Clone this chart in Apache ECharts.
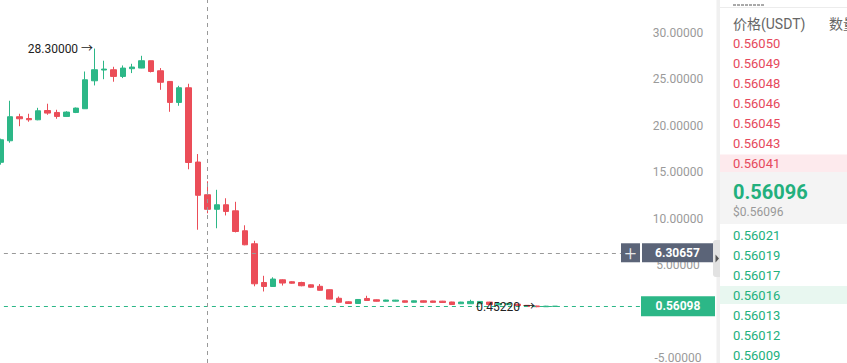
<!DOCTYPE html>
<html>
<head>
<meta charset="utf-8">
<script src="https://cdn.jsdelivr.net/npm/echarts@6/dist/echarts.min.js"></script>
<style>
html,body{margin:0;padding:0;background:#fff;}
#chart{width:847px;height:363px;}
</style>
</head>
<body>
<div id="chart"></div>
<script>
// ---- data ----
const categories = ['1','2','3','4','5','6','7','8','9','10','11','12','13','14','15','16','17','18','19','20',
  '21','22','23','24','25','26','27','28','29','30','31','32','33','34','35','36','37','38','39','40',
  '41','42','43','44','45','46','47','48','49','50','51','52','53','54','55','56','57','58','59','60',
  '61','62','63','64','65','66','67','68','69'];
const openPrices  = [16.05,18.37,20.96,20.77,20.63,21.63,21.42,20.99,21.42,21.82,24.83,25.99,26.02,25.30,26.13,26.20,26.99,25.91,24.76,22.50,
  24.08,16.08,12.56,10.99,11.48,10.83,8.68,7.28,3.11,2.68,3.40,3.19,3.11,2.86,2.70,2.33,1.41,1.03,0.85,1.39,
  1.25,1.09,1.10,1.14,0.98,1.14,1.12,1.10,1.01,0.82,0.82,0.82,1.00,0.70,0.72,0.78,0.65,0.58,0.50,0.53];
const closePrices = [18.48,20.96,20.74,20.63,21.60,21.35,20.99,21.46,21.89,24.94,26.02,26.09,25.30,26.20,26.31,26.99,25.83,24.67,22.50,24.08,
  16.03,12.50,10.99,11.48,10.76,8.60,7.17,2.97,2.68,3.48,3.05,3.03,2.76,2.60,2.27,1.32,0.98,0.85,1.28,1.17,
  1.09,1.22,1.21,0.98,1.14,0.98,0.97,0.96,0.74,1.00,1.07,1.07,0.75,0.85,0.86,0.62,0.52,0.50,0.56,0.56098];
const lowPrices   = [15.80,18.16,19.94,20.42,20.58,21.17,20.74,20.96,21.35,21.80,24.33,25.00,24.73,25.12,25.66,26.18,25.73,23.86,21.49,22.14,
  15.30,8.79,10.56,8.95,10.33,8.50,7.12,2.70,2.14,2.65,2.78,2.98,2.70,2.55,2.24,1.30,0.89,0.82,0.82,1.14,
  1.06,1.06,1.07,0.95,0.95,0.95,0.94,0.93,0.72,0.80,0.80,0.80,0.72,0.68,0.70,0.60,0.50,0.4522,0.48,0.51];
const highPrices  = [18.60,22.68,21.28,21.28,21.92,22.36,21.71,21.55,21.95,25.83,28.30,26.99,26.34,26.48,26.66,27.52,27.00,26.20,24.80,24.29,
  24.51,16.94,14.01,13.09,12.18,11.80,9.27,7.60,3.83,3.67,3.45,3.25,3.19,2.90,2.94,2.36,1.60,1.08,1.32,1.68,
  1.28,1.25,1.24,1.17,1.17,1.17,1.15,1.13,1.04,1.03,1.25,1.10,1.03,0.88,0.89,0.80,0.68,0.60,0.59,0.57];
const lastPrice = 0.56098;
const crosshairPrice = 6.30657;
const crosshairCategory = '23';
const yTickValues = [-5, 0, 5, 10, 15, 20, 25, 30];
const askPrices = ['0.56050','0.56049','0.56048','0.56046','0.56045','0.56043','0.56041'];
const bidPrices = ['0.56021','0.56019','0.56017','0.56016','0.56013','0.56012','0.56009'];
const midPrice = '0.56096';
const midPriceUsd = '$0.56096';
const headerTexts = ['价格(USDT)', '数量'];

// ---- build ----
const GREEN = '#2cb787', RED = '#eb4d58';
const BOOK_RED = '#e6495c', BOOK_GREEN = '#22b07d';
const SLATE = '#5b6478';
const FONT = "Roboto, 'Noto Sans CJK SC', sans-serif";

const candleData = openPrices.map((o, i) => [o, closePrices[i], lowPrices[i], highPrices[i]]);

const graphics = [];
graphics.push({type:'rect', silent:true, shape:{x:716.5, y:0, width:3.5, height:363}, style:{fill:'#f0f0f0'}});
graphics.push({type:'line', silent:true, shape:{x1:720, y1:7.5, x2:847, y2:7.5}, style:{stroke:'#ececec', lineWidth:1}});
graphics.push({type:'line', silent:true, shape:{x1:733, y1:5, x2:765, y2:5}, style:{stroke:'#555', lineWidth:1, lineDash:[3,1]}});
graphics.push({type:'text', silent:true, style:{x:733, y:24, text:headerTexts[0], fill:'#666', font:'14px ' + FONT, textAlign:'left', textVerticalAlign:'middle', align:'left', verticalAlign:'middle'}});
graphics.push({type:'text', silent:true, style:{x:829, y:24, text:headerTexts[1], fill:'#666', font:'14px ' + FONT, textAlign:'left', textVerticalAlign:'middle', align:'left', verticalAlign:'middle'}});
// highlighted rows and mid block
graphics.push({type:'rect', silent:true, shape:{x:720, y:154.5, width:127, height:17.5}, style:{fill:'#fdeaed'}});
graphics.push({type:'rect', silent:true, shape:{x:720, y:172, width:127, height:52}, style:{fill:'#f4f4f4'}});
graphics.push({type:'rect', silent:true, shape:{x:720, y:286, width:127, height:18}, style:{fill:'#e8f7f0'}});
askPrices.forEach((p, i) => {
  graphics.push({type:'text', silent:true, style:{x:733, y:43.3 + i * 20, text:p, fill:BOOK_RED, font:'13px ' + FONT, textAlign:'left', textVerticalAlign:'middle', align:'left', verticalAlign:'middle'}});
});
graphics.push({type:'text', silent:true, style:{x:733, y:191.5, text:midPrice, fill:BOOK_GREEN, font:'bold 20px ' + FONT, textAlign:'left', textVerticalAlign:'middle', align:'left', verticalAlign:'middle'}});
graphics.push({type:'text', silent:true, style:{x:733, y:211.7, text:midPriceUsd, fill:'#999', font:'12px ' + FONT, textAlign:'left', textVerticalAlign:'middle', align:'left', verticalAlign:'middle'}});
bidPrices.forEach((p, i) => {
  graphics.push({type:'text', silent:true, style:{x:733, y:235 + i * 20, text:p, fill:BOOK_GREEN, font:'13px ' + FONT, textAlign:'left', textVerticalAlign:'middle', align:'left', verticalAlign:'middle'}});
});
// collapse tab
graphics.push({type:'rect', silent:true, shape:{x:713, y:240, width:7, height:37, r:[3,0,0,3]}, style:{fill:'#e2e2e2'}});
graphics.push({type:'polygon', silent:true, shape:{points:[[715.5,254.5],[719,258.5],[715.5,262.5]]}, style:{fill:'#555'}});

const option = {
  animation: false,
  backgroundColor: '#fff',
  grid: {left: -4.1, right: 202.5, top: 0, bottom: 0, containLabel: false, outerBoundsMode: 'none'},
  xAxis: {type: 'category', data: categories, show: false, boundaryGap: true},
  yAxis: {
    type: 'value', position: 'right', min: -5.56, max: 33.53,
    axisLine: {show: false}, axisTick: {show: false}, splitLine: {show: false},
    axisLabel: {customValues: yTickValues, formatter: v => Number(v).toFixed(5), color: '#9a9a9a',
      fontSize: 12, fontFamily: FONT, align: 'center', margin: 33.5}
  },
  series: [{
    type: 'candlestick',
    data: candleData,
    barWidth: 6,
    itemStyle: {color: GREEN, color0: RED, borderColor: GREEN, borderColor0: RED, borderWidth: 1},
    markPoint: {
      symbol: 'rect', symbolSize: 1,
      itemStyle: {color: 'rgba(0,0,0,0)'},
      data: [{type: 'max', valueDim: 'highest'}, {type: 'min', valueDim: 'lowest'}],
      label: {show: true, position: 'left', distance: 1, color: '#222', fontSize: 12, fontFamily: FONT,
        formatter: p => Number(p.value).toFixed(5) + ' →'}
    },
    markLine: {
      silent: true, symbol: ['none', 'none'],
      data: [
        {yAxis: lastPrice, lineStyle: {color: GREEN, type: [4, 4], width: 1},
          label: {show: true, position: 'end', distance: -3.5,
            formatter: '{v|' + lastPrice.toFixed(5) + '}',
            rich: {v: {width: 74, height: 20, lineHeight: 20, align: 'center', backgroundColor: GREEN,
              color: '#fff', fontSize: 12, fontWeight: 'bold', fontFamily: FONT}}}},
        {yAxis: crosshairPrice, lineStyle: {color: '#999', type: [4, 4], width: 1},
          label: {show: true, position: 'end', distance: -23.5,
            formatter: '{p|+}{g| }{v|' + crosshairPrice.toFixed(5) + '}',
            rich: {
              p: {width: 19, height: 19, lineHeight: 19, align: 'center', backgroundColor: SLATE, color: '#e8e8e8', fontSize: 21, fontWeight: 300, fontFamily: FONT},
              g: {width: 2, height: 19, lineHeight: 19, fontSize: 2},
              v: {width: 71, height: 19, lineHeight: 19, align: 'center', backgroundColor: SLATE, color: '#fff', fontSize: 12, fontWeight: 'bold', fontFamily: FONT}
            }}},
        {xAxis: crosshairCategory, lineStyle: {color: '#999', type: [4, 4], width: 1}, label: {show: false}}
      ]
    }
  }],
  graphic: graphics
};

const chart = echarts.init(document.getElementById('chart'), null, {renderer: 'svg'});
chart.setOption(option);
</script>
</body>
</html>
